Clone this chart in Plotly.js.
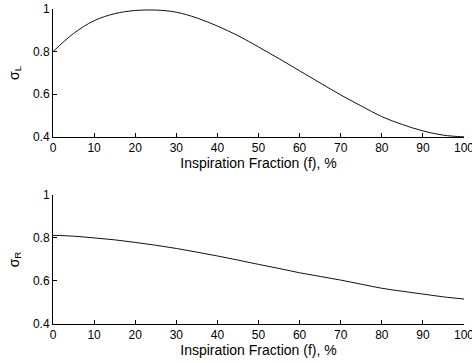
<!DOCTYPE html>
<html><head><meta charset="utf-8">
<script src="https://cdn.plot.ly/plotly-3.0.1.min.js"></script>
<style>html,body{margin:0;padding:0;background:#fff}#c{width:472px;height:363px}</style>
</head><body><div id="c"></div>
<script>
var fraction = [0,5,10,15,20,25,30,35,40,45,50,55,60,65,70,75,80,85,90,95,100];
var sigmaL = [0.80,0.885,0.945,0.978,0.993,0.995,0.985,0.958,0.92,0.875,0.822,0.767,0.71,0.653,0.597,0.545,0.495,0.458,0.428,0.408,0.40];
var sigmaR = [0.812,0.808,0.80,0.791,0.779,0.766,0.751,0.734,0.716,0.697,0.677,0.658,0.638,0.621,0.604,0.585,0.566,0.552,0.539,0.526,0.516];
var xTitle = 'Inspiration Fraction (f), %';
var yTitleTop = 'σ<sub>L</sub>';
var yTitleBottom = 'σ<sub>R</sub>';

var fontFam = 'Liberation Sans, Arial, sans-serif';
var lineStyle = {color:'#111', width:1, shape:'spline'};
function xa(anchor){return {range:[0,100], dtick:10, tick0:0, ticks:'inside', ticklen:4, tickcolor:'#000',
  showline:true, linecolor:'#000', linewidth:1, showgrid:false, zeroline:false, anchor:anchor,
  ticklabeloverflow:'allow',
  tickfont:{family:fontFam,size:12,color:'#000'},
  title:{text:xTitle, font:{family:fontFam,size:14,color:'#000'}, standoff:3}};}
function ya(anchor,t,dom){return {range:[0.4,1], dtick:0.2, tick0:0.4, ticks:'inside', ticklen:4, tickcolor:'#000',
  showline:true, linecolor:'#000', linewidth:1, showgrid:false, zeroline:false, anchor:anchor, domain:dom,
  ticklabeloverflow:'allow',
  tickfont:{family:fontFam,size:12,color:'#000'},
  title:{text:t, font:{family:fontFam,size:14,color:'#000'}, standoff:10}};}

var data = [
 {x:fraction, y:sigmaL, type:'scatter', mode:'lines', line:lineStyle, xaxis:'x', yaxis:'y', cliponaxis:false},
 {x:fraction, y:sigmaR, type:'scatter', mode:'lines', line:lineStyle, xaxis:'x2', yaxis:'y2', cliponaxis:false}
];
var layout = {
 width:472, height:363, showlegend:false,
 margin:{l:53, r:8, t:9, b:39},
 paper_bgcolor:'#fff', plot_bgcolor:'#fff',
 xaxis: xa('y'),
 yaxis: ya('x', yTitleTop, [0.594,1]),
 xaxis2: xa('y2'),
 yaxis2: ya('x2', yTitleBottom, [0,0.41])
};
Plotly.newPlot('c', data, layout, {staticPlot:true, displayModeBar:false});
</script></body></html>
